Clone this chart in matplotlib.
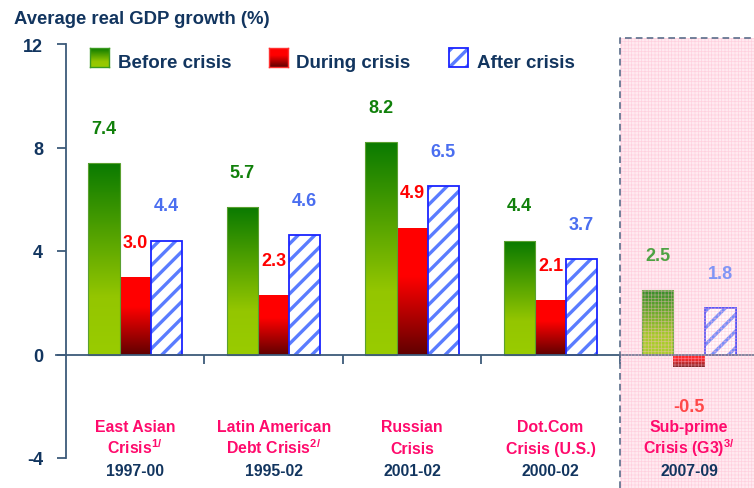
import numpy as np
import matplotlib
matplotlib.use("Agg")
import matplotlib.pyplot as plt
from matplotlib.colors import LinearSegmentedColormap
from matplotlib.patches import Rectangle
from matplotlib.transforms import blended_transform_factory

# ---- data ----
crisis_names = ["East Asian", "Latin American", "Russian", "Dot.Com", "Sub-prime"]
crisis_subtitles = ["Crisis$^{1/}$", "Debt Crisis$^{2/}$", "Crisis",
                    "Crisis (U.S.)", "Crisis (G3)$^{3/}$"]
periods = ["1997-00", "1995-02", "2001-02", "2000-02", "2007-09"]
before = [7.4, 5.7, 8.2, 4.4, 2.5]
during = [3.0, 2.3, 4.9, 2.1, -0.5]
after = [4.4, 4.6, 6.5, 3.7, 1.8]
series_names = ["Before crisis", "During crisis", "After crisis"]
yticks = [-4, 0, 4, 8, 12]
title = "Average real GDP growth (%)"

# ---- style ----
plt.rcParams["font.family"] = ["Liberation Sans", "DejaVu Sans"]
plt.rcParams["font.weight"] = "bold"
plt.rcParams["mathtext.fontset"] = "custom"
plt.rcParams["mathtext.rm"] = "Liberation Sans:bold"
plt.rcParams["mathtext.it"] = "Liberation Sans:bold"
plt.rcParams["mathtext.bf"] = "Liberation Sans:bold"
plt.rcParams["hatch.linewidth"] = 2.4

NAVY = "#12355f"
PINK = "#ff0a6c"
AXIS = "#3d5a7a"
green_cmap = LinearSegmentedColormap.from_list(
    "g", [(0, "#99cc00"), (0.3, "#94c600"), (1, "#0a7a00")])
red_cmap = LinearSegmentedColormap.from_list(
    "r", [(0, "#600000"), (0.62, "#ff0000"), (1, "#ff0000")])
label_colors = ["#10800a", "#ff0000", "#4a6ef0"]
faded_label_colors = ["#4ea243", "#ff4848", "#8095f5"]

W, H = 754, 489
fig = plt.figure(figsize=(W / 100, H / 100), dpi=100)
ax = fig.add_axes([66 / W, 30 / H, (754 - 66) / W, (459 - 45) / H])


def fx(px):
    return px / W


def fy(py):
    return 1 - py / H


x = np.arange(len(crisis_names))
bw = 0.225
grad = np.linspace(0, 1, 256).reshape(-1, 1)


def gradient_bars(bars, cmap):
    for b in bars:
        x0, y0 = b.get_x(), b.get_y()
        x1, y1 = x0 + b.get_width(), y0 + b.get_height()
        im = ax.imshow(grad, cmap=cmap, extent=[x0, x1, min(y0, y1), max(y0, y1)],
                       aspect="auto", origin="lower", interpolation="bilinear",
                       zorder=2)
        im.set_clip_path(b)


# before-crisis bars: green gradient
b_bars = ax.bar(x - bw, before, bw, facecolor="none", edgecolor="#5aa030",
                linewidth=0.8, zorder=2.1)
gradient_bars(b_bars, green_cmap)

# during-crisis bars: red gradient
d_bars = ax.bar(x, during, bw, facecolor="none", edgecolor="none",
                linewidth=0, zorder=2.1)
gradient_bars(d_bars, red_cmap)

# after-crisis bars: blue diagonal hatch
ax.bar(x + bw, after, bw, facecolor="white", edgecolor="#5a7cff",
       linewidth=0, hatch="//", zorder=2)
ax.bar(x + bw, after, bw, fill=False, edgecolor="#1a24ff", linewidth=1.3,
       zorder=2.1)

# value labels
for i in range(len(x)):
    cols = faded_label_colors if i == len(x) - 1 else label_colors
    for off, val, c in zip((-bw, 0, bw), (before[i], during[i], after[i]), cols):
        dy = 25 if val >= 0 else -28
        ax.annotate(f"{val:.1f}", (x[i] + off, val), xytext=(0, dy),
                    textcoords="offset points", ha="center", va="center",
                    fontsize=13, fontweight="bold", color=c, zorder=4)

# category labels under the axis
tr = blended_transform_factory(ax.transData, fig.transFigure)
for i in range(len(x)):
    ax.text(x[i], fy(432), crisis_names[i], transform=tr,
            ha="center", va="baseline", fontsize=11.4, color=PINK, zorder=4)
    ax.text(x[i], fy(454), crisis_subtitles[i], transform=tr,
            ha="center", va="baseline", fontsize=11.4, color=PINK, zorder=4)
    ax.text(x[i], fy(476), periods[i], transform=tr,
            ha="center", va="baseline", fontsize=11.4, color=NAVY, zorder=4)

# axes styling
ax.set_xlim(-0.5, 4.47)
ax.set_ylim(-4, 12)
ax.set_yticks(yticks)
ax.set_yticklabels([str(t) for t in yticks])
ax.set_xticks([0.5, 1.5, 2.5, 3.5])
ax.set_xticklabels([])
for s in ("top", "right"):
    ax.spines[s].set_visible(False)
ax.spines["bottom"].set_position(("data", 0))
for s in ("left", "bottom"):
    ax.spines[s].set_color(AXIS)
    ax.spines[s].set_linewidth(1.3)
ax.tick_params(axis="both", direction="out", length=6.5, width=1.3, color=AXIS)
ax.tick_params(axis="y", pad=10, labelsize=13, labelcolor=NAVY)
ax.patch.set_visible(False)
ax.plot([-0.5 - 10 / 138.4, -0.5], [0, 0], color=AXIS, lw=1.3, clip_on=False,
        zorder=2.5)

# shaded sub-prime panel: pink backdrop behind the bars, fine grid on top
panel = (fx(620), 0)
panel_w, panel_h = 1 - fx(620) + 0.01, fy(39)
ax.add_patch(Rectangle(panel, panel_w, panel_h, transform=fig.transFigure,
                       facecolor="#ffecf1", linewidth=0, zorder=0.5, clip_on=False))
shade = Rectangle(panel, panel_w, panel_h, transform=fig.transFigure,
                  facecolor=(1, 0.9, 0.93, 0.18), edgecolor=(1, 0.72, 0.81, 0.5),
                  linewidth=0, hatch="+++++", zorder=2.6, clip_on=False)
if hasattr(shade, "set_hatch_linewidth"):
    shade.set_hatch_linewidth(0.5)
ax.add_patch(shade)
ax.plot([fx(620), fx(620), 1.0], [0, fy(39), fy(39)], transform=fig.transFigure,
        color="#5a6d8a", lw=1.2, linestyle=(0, (4, 2.5)), clip_on=False, zorder=3)

# title
fig.text(fx(14), fy(24), title, ha="left", va="baseline", fontsize=13.3,
         fontweight="bold", color=NAVY)

# legend
sq = 19
legend_items = [(90, 118), (269, 296), (449, 477)]
for k, (sx, tx) in enumerate(legend_items):
    rect = [fx(sx), fy(49 + sq), sq / W, sq / H]
    if k < 2:
        lax = fig.add_axes(rect)
        lax.imshow(grad, cmap=green_cmap if k == 0 else red_cmap, aspect="auto",
                   origin="lower", extent=[0, 1, 0, 1])
        lax.set_xticks([])
        lax.set_yticks([])
        for sp in lax.spines.values():
            sp.set_color("#3a9a20" if k == 0 else "#ff3030")
            sp.set_linewidth(1.0)
    else:
        fig.add_artist(Rectangle((rect[0], rect[1]), rect[2], rect[3],
                                 transform=fig.transFigure, facecolor="white",
                                 edgecolor="#5a7cff", linewidth=0, hatch="//"))
        fig.add_artist(Rectangle((rect[0], rect[1]), rect[2], rect[3],
                                 transform=fig.transFigure, fill=False,
                                 edgecolor="#1a24ff", linewidth=1.3))
    fig.text(fx(tx), fy(68), series_names[k], ha="left", va="baseline",
             fontsize=13.5, fontweight="bold", color=NAVY)

fig.savefig("out.png", dpi=100)
